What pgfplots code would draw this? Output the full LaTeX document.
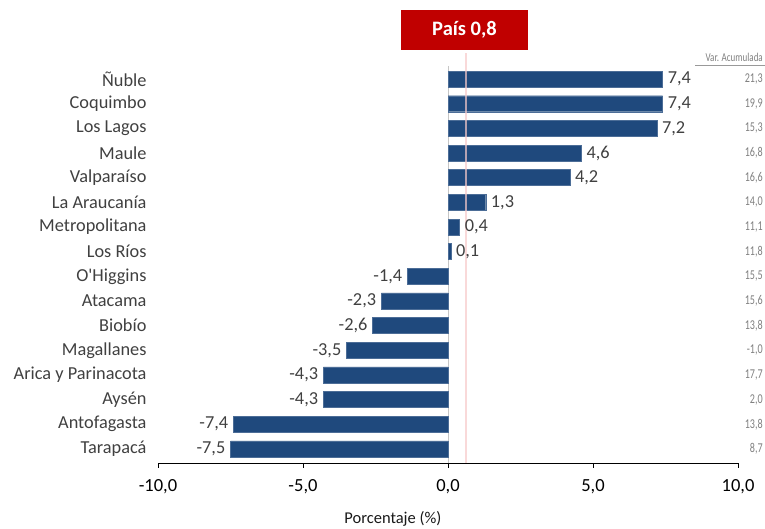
\documentclass[border=0pt]{standalone}
\usepackage{pgfplots}
\pgfplotsset{compat=1.18}
\usepackage{pgfplotstable}
\usepackage{fontspec}
\setmainfont{Carlito}
\newfontfamily\narrow[FakeStretch=0.75]{Carlito}
\definecolor{barblue}{HTML}{1F497D}
\definecolor{boxred}{HTML}{C00000}
\definecolor{pinkline}{HTML}{F6C9C9}
\definecolor{accgray}{HTML}{808080}
\definecolor{labgray}{HTML}{404040}
\pgfplotstableread[col sep=semicolon]{
y;val;acc;name
0;-7.5;8,7;Tarapacá
1;-7.4;13,8;Antofagasta
2;-4.3;2,0;Aysén
3;-4.3;17,7;Arica y Parinacota
4;-3.5;-1,0;Magallanes
5;-2.6;13,8;Biobío
6;-2.3;15,6;Atacama
7;-1.4;15,5;O\textquotesingle Higgins
8;0.1;11,8;Los Ríos
9;0.4;11,1;Metropolitana
10;1.3;14,0;La Araucanía
11;4.2;16,6;Valparaíso
12;4.6;16,8;Maule
13;7.2;15,3;Los Lagos
14;7.4;19,9;Coquimbo
15;7.4;21,3;Ñuble
}\data
\begin{document}
\begin{tikzpicture}[x=1pt,y=1pt]
\path[use as bounding box] (0,0) rectangle (765,529);
\begin{axis}[
  at={(158pt,66pt)}, anchor=south west,
  scale only axis, width=580pt, height=397pt,
  xmin=-10, xmax=10, ymin=-0.57, ymax=15.53,
  clip=false,
  axis x line*=bottom, axis y line*=left,
  y axis line style={draw=none},
  x axis line style={black, line width=0.8pt},
  xtick={-10,-5,0,5,10},
  xtick align=outside,
  major tick length=5pt,
  xtick style={black, line width=0.8pt},
  ytick={0,...,15},
  ytick style={draw=none},
  yticklabels from table={\data}{name},
  yticklabel style={font=\fontsize{18.3}{21}\selectfont, color=labgray, xshift=-8pt},
  xticklabel style={font=\fontsize{18.5}{21}\selectfont, color=black, yshift=-8pt},
  x tick label style={/pgf/number format/.cd, fixed, fixed zerofill, precision=1, use comma, assume math mode=true},
  xlabel={Porcentaje (\%)},
  xlabel style={font=\fontsize{16.5}{19}\selectfont, color=black!90, at={(ticklabel cs:0.405)}, anchor=north, yshift=-10.5pt},
]
\addplot[gray!45, line width=1pt] coordinates {(0,-0.57) (0,15.53)};
\addplot[xbar, bar width=16pt, fill=barblue, draw=barblue!80!white,
  nodes near coords={\pgfmathprintnumber[fixed,fixed zerofill,precision=1,use comma,assume math mode=true]{\pgfplotspointmeta}},
  nodes near coords align={horizontal},
  every node near coord/.append style={font=\fontsize{18.3}{21}\selectfont, color=labgray, inner sep=5pt}
] table[x=val, y=y] {\data};
\addplot[pinkline, line width=1.8pt, opacity=0.7] coordinates {(0.62,-0.57) (0.62,16.06)};
\addplot[draw=none, mark=none, point meta=explicit symbolic,
  nodes near coords,
  every node near coord/.append style={anchor=east, inner sep=0pt, font=\narrow\fontsize{13.5}{15}\selectfont, color=accgray}
] table[x expr=10.86, y=y, meta=acc] {\data};
\end{axis}
\node[fill=boxred, text=white, font=\bfseries\fontsize{20.5}{24}\selectfont, minimum width=127pt, minimum height=40pt, inner sep=0pt] at (464.5,499) {País 0,8};
\node[anchor=east, inner sep=0pt, font=\narrow\fontsize{12}{14}\selectfont, color=accgray] at (763,472) {Var. Acumulada};
\draw[gray!80, line width=0.8pt] (695,464) -- (765,464);
\end{tikzpicture}
\end{document}
